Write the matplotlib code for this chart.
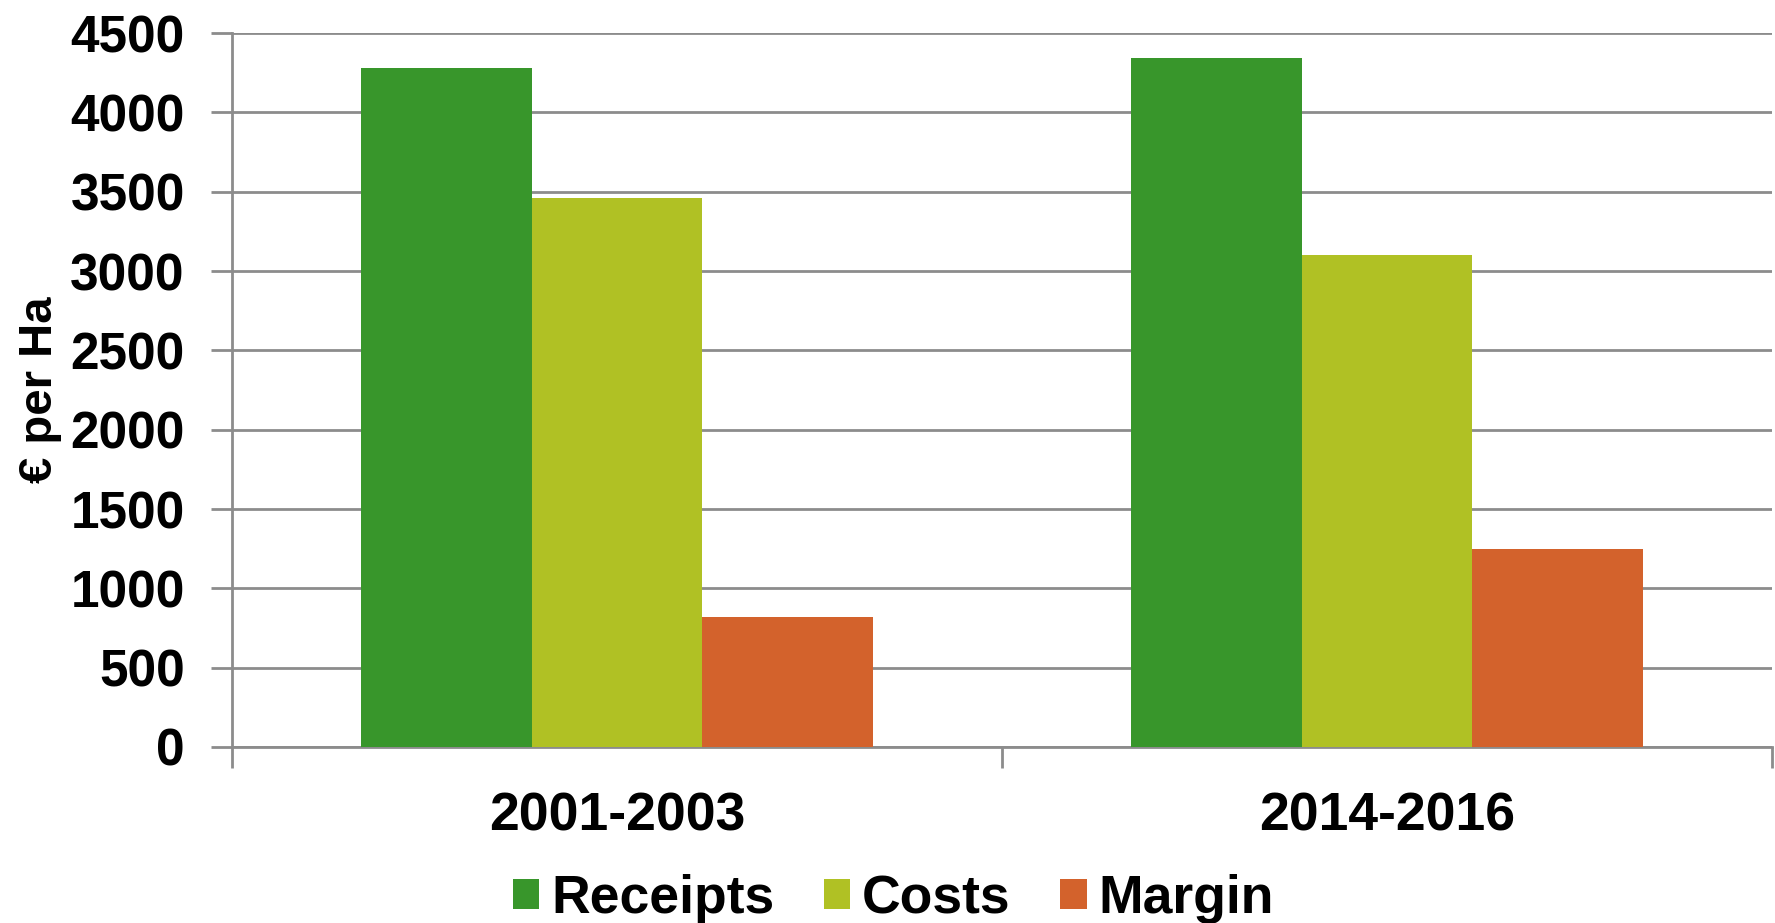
import matplotlib.pyplot as plt
import numpy as np

plt.rcParams['font.family'] = ['Liberation Sans', 'DejaVu Sans']
plt.rcParams['font.weight'] = 'bold'

# data
periods = ['2001-2003', '2014-2016']
series = ['Receipts', 'Costs', 'Margin']
receipts = [4280, 4345]
costs = [3458, 3098]
margin = [821, 1248]
colors = ['#38962B', '#B0C124', '#D3622C']

fig = plt.figure(figsize=(17.75, 9.23), dpi=100)
ax = fig.add_axes([0.1307, 0.1907, 0.8676, 0.7735])

x = np.arange(len(periods))
width = 0.222
for i, (name, vals) in enumerate(zip(series, [receipts, costs, margin])):
    ax.bar(x + (i - 1) * width, vals, width, color=colors[i], label=name, zorder=3)

ax.set_xlim(-0.5, 1.5)
ax.set_ylim(0, 4500)
ax.set_yticks(np.arange(0, 4501, 500))
ax.yaxis.grid(True, color='#8C8C8C', linewidth=2, zorder=0)

ax.set_xticks(x)
ax.set_xticklabels(periods, fontsize=38.5, fontweight='bold')
ax.set_xticks([-0.5, 0.5, 1.5], minor=True)
ax.tick_params(axis='x', which='major', length=0, pad=32)
ax.tick_params(axis='x', which='minor', length=15, width=2, color='#8C8C8C')
ax.tick_params(axis='y', length=15, width=2, color='#8C8C8C', labelsize=37, pad=19)
for lab in ax.get_yticklabels():
    lab.set_fontweight('bold')

for side in ['top', 'right']:
    ax.spines[side].set_visible(False)
for side in ['left', 'bottom']:
    ax.spines[side].set_color('#8C8C8C')
    ax.spines[side].set_linewidth(2)

ax.set_ylabel('€ per Ha', fontsize=34, fontweight='bold', labelpad=6)

ax.legend(loc='center', bbox_to_anchor=(0.4294, -0.213), ncol=3, frameon=False,
          handlelength=0.5, handleheight=0.5, handletextpad=0.22,
          columnspacing=0.92, prop={'weight': 'bold', 'size': 38.5})

plt.savefig('out.png', dpi=100)
